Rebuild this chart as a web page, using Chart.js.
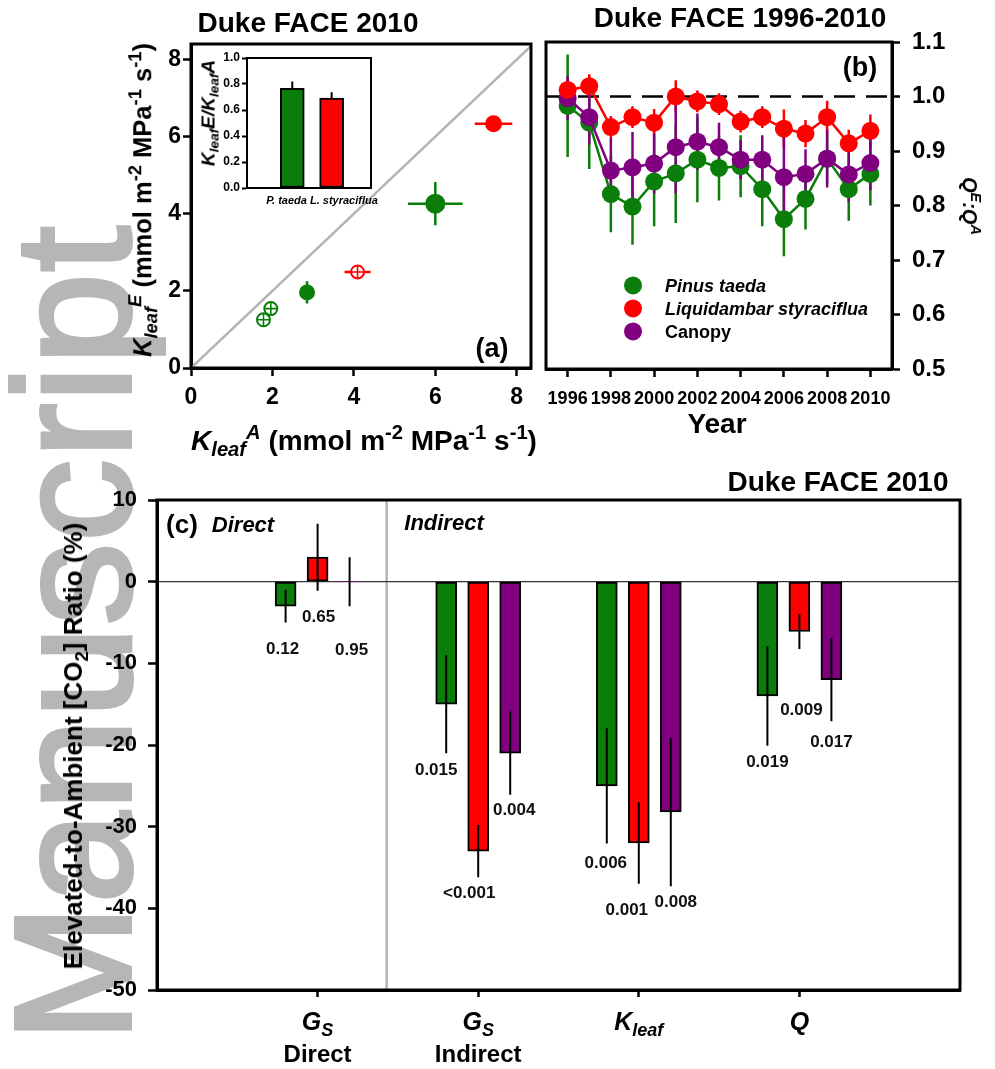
<!DOCTYPE html>
<html>
<head>
<meta charset="utf-8">
<title>Duke FACE 2010</title>
<script src="https://cdn.jsdelivr.net/npm/chart.js@4.4.1/dist/chart.umd.min.js"></script>
<style>
  html, body { margin: 0; padding: 0; background: #fff; }
  #page { position: relative; width: 995px; height: 1069px; overflow: hidden; font-family: "Liberation Sans", Arial, sans-serif; }
  canvas { position: absolute; }
  .wm { position: absolute; left: -9px; top: 1042px; font-family: "Liberation Sans", Arial, sans-serif; font-size: 165px; line-height: 165px; letter-spacing: 1px;
        color: #b6b6b6; -webkit-text-stroke: 4px #b6b6b6; white-space: nowrap; transform-origin: 0 0; transform: rotate(-90deg); }
  .t { position: absolute; white-space: nowrap; font-weight: bold; line-height: 1; color: #000; transform: translate(-50%, -50%); }
  .t.ccw { transform: translate(-50%, -50%) rotate(-90deg); }
  .t.cw { transform: translate(-50%, -50%) rotate(90deg); }
  .sb { font-size: 0.72em; position: relative; top: 0.32em; }
  .sp { font-size: 0.72em; position: relative; top: -0.55em; }
  .dot { display: inline-block; width: 18px; height: 18px; border-radius: 50%; vertical-align: middle; margin-right: 23px; position: relative; top: -2px; }
</style>
</head>
<body>
<div id="page">
  <div class="wm">Manuscript</div>

  <canvas id="chartA" width="420" height="400" style="left:130px;top:20px;width:420px;height:400px"></canvas>
  <canvas id="chartInset" width="190" height="165" style="left:190px;top:47px;width:190px;height:165px"></canvas>
  <canvas id="chartB" width="465" height="428" style="left:530px;top:12px;width:465px;height:428px"></canvas>
  <canvas id="chartC" width="905" height="595" style="left:90px;top:474px;width:905px;height:595px"></canvas>

  <!-- panel (a) text -->
  <div class="t" style="left:308px;top:23px;font-size:28px">Duke FACE 2010</div>
  <div class="t" style="left:364px;top:441px;font-size:28px"><i>K<span class="sb">leaf</span><span class="sp">A</span></i> (mmol m<span class="sp">-2</span> MPa<span class="sp">-1</span> s<span class="sp">-1</span>)</div>
  <div class="t ccw" style="left:143px;top:200px;font-size:25.5px"><i>K<span class="sb">leaf</span><span class="sp">E</span></i> (mmol m<span class="sp">-2</span> MPa<span class="sp">-1</span> s<span class="sp">-1</span>)</div>
  <div class="t ccw" style="left:208px;top:113px;font-size:19px"><i>K<span class="sb">leaf</span>E/K<span class="sb">leaf</span>A</i></div>
  <div class="t" id="insetNames" style="left:322px;top:200px;font-size:11px;font-style:italic"></div>
  <div class="t" style="left:492px;top:348px;font-size:27px">(a)</div>

  <!-- panel (b) text -->
  <div class="t" style="left:740px;top:18px;font-size:28px">Duke FACE 1996-2010</div>
  <div class="t" style="left:860px;top:67px;font-size:27px">(b)</div>
  <div class="t cw" style="left:970px;top:206px;font-size:20px"><i>Q<span class="sp">E</span>:Q<span class="sp">A</span></i></div>
  <div class="t" style="left:717px;top:424px;font-size:28px">Year</div>
  <div id="legendB"></div>

  <!-- panel (c) text -->
  <div class="t" style="left:838px;top:482px;font-size:28px">Duke FACE 2010</div>
  <div class="t" style="left:182px;top:524px;font-size:26px">(c)</div>
  <div class="t" style="left:243px;top:525px;font-size:22px;font-style:italic">Direct</div>
  <div class="t" style="left:444px;top:523px;font-size:22px;font-style:italic">Indirect</div>
  <div class="t ccw" style="left:73px;top:746px;font-size:26px">Elevated-to-Ambient [CO<span class="sb">2</span>] Ratio (%)</div>
  <div id="catLabelsC"></div>
</div>

<script>
// ---------- panel (a): K_leaf from E vs from A ----------
const aTicks = [0, 2, 4, 6, 8];
const aXMax = 8.35;
const aYMax = 8.4;
const aOneToOne = [0, 8.4];

const aGreenFilledKA = [2.85, 6.0];
const aGreenFilledKE = [1.96, 4.26];
const aGreenFilledErrA = [0.1, 0.67];
const aGreenFilledErrE = [0.29, 0.56];

const aRedFilledKA = [7.43];
const aRedFilledKE = [6.33];
const aRedFilledErrA = [0.46];
const aRedFilledErrE = [0.18];

const aGreenOpenKA = [1.78, 1.96];
const aGreenOpenKE = [1.25, 1.54];
const aGreenOpenErr = [0.08, 0.08];

const aRedOpenKA = [4.09];
const aRedOpenKE = [2.49];
const aRedOpenErrA = [0.32];
const aRedOpenErrE = [0.1];

// inset
const insetSpecies = ['P. taeda', 'L. styraciflua'];
const insetRatio = [0.767, 0.692];
const insetErr = [0.052, 0.044];
const insetTicks = [0, 0.2, 0.4, 0.6, 0.8, 1.0];

// ---------- panel (b): Q^E:Q^A 1996-2010 ----------
const years = [1996, 1997, 1998, 1999, 2000, 2001, 2002, 2003, 2004, 2005, 2006, 2007, 2008, 2009, 2010];
const yearTicks = [1996, 1998, 2000, 2002, 2004, 2006, 2008, 2010];
const qTicks = [0.5, 0.6, 0.7, 0.8, 0.9, 1.0, 1.1];
const qRef = 1.0;
const bSeriesNames = ['Pinus taeda', 'Liquidambar styraciflua', 'Canopy'];

const qPinus     = [0.983, 0.952, 0.821, 0.798, 0.844, 0.859, 0.884, 0.869, 0.872, 0.830, 0.775, 0.812, 0.886, 0.830, 0.858];
const qPinusErr  = [0.094, 0.085, 0.07, 0.07, 0.082, 0.091, 0.078, 0.06, 0.057, 0.068, 0.068, 0.056, 0.046, 0.058, 0.058];
const qLiquid    = [1.012, 1.019, 0.944, 0.962, 0.952, 1.0, 0.991, 0.986, 0.954, 0.962, 0.941, 0.932, 0.962, 0.914, 0.937];
const qLiquidErr = [0.02, 0.022, 0.02, 0.02, 0.025, 0.03, 0.02, 0.02, 0.02, 0.02, 0.035, 0.025, 0.03, 0.025, 0.03];
const qCanopy    = [0.997, 0.962, 0.864, 0.870, 0.877, 0.907, 0.917, 0.907, 0.884, 0.884, 0.852, 0.858, 0.886, 0.857, 0.878];
const qCanopyErr = [0.04, 0.05, 0.06, 0.065, 0.055, 0.085, 0.052, 0.045, 0.036, 0.045, 0.074, 0.045, 0.053, 0.05, 0.05];

// ---------- panel (c): elevated-to-ambient ratios ----------
const cCategories = ['Gs Direct', 'Gs Indirect', 'Kleaf', 'Q'];
const cSymbol = ['G', 'G', 'K', 'Q'];
const cSymbolSub = ['S', 'S', 'leaf', ''];
const cGroupName = ['Direct', 'Indirect', '', ''];
const cTicks = [-50, -40, -30, -20, -10, 0, 10];
const cDividerAt = 1.43;

const cPinus      = [-3, -15, -25, -14];
const cPinusErr   = [2, 6, 7.05, 6.1];
const cPinusP     = ['0.12', '0.015', '0.006', '0.019'];
const cLiquid     = [3, -33, -32, -6.1];
const cLiquidErr  = [4.1, 3.2, 5, 2.15];
const cLiquidP    = ['0.65', '<0.001', '0.001', '0.009'];
const cCanopy     = [0, -21, -28.2, -12];
const cCanopyErr  = [3, 5.1, 9.1, 5.1];
const cCanopyP    = ['0.95', '0.004', '0.008', '0.017'];

// label nudges (px) so the p-values sit where the original put them
const pNudgeX = [[-3, -10, -1, 0], [1, -9, -12, 2], [2, 4, 5, 0]];
const pNudgeY = [[10, 0, 3, -1], [10, -1, 9, 44], [27, -2, -1, 4]];

const GREEN = '#0b7d0b';
const RED = '#ff0000';
const PURPLE = '#800080';

Chart.defaults.font.family = '"Liberation Sans", Arial, sans-serif';
Chart.defaults.font.weight = 'bold';
Chart.defaults.color = '#000';

// ---------- plugins ----------
const framePlugin = {
    id: 'frame',
    afterDraw(chart, args, opts) {
        const a = chart.chartArea, ctx = chart.ctx;
        ctx.save();
        ctx.strokeStyle = '#000';
        ctx.lineWidth = opts.width || 3;
        ctx.strokeRect(a.left, a.top, a.right - a.left, a.bottom - a.top);
        ctx.restore();
    }
};

function drawErrorBars(chart) {
    const ctx = chart.ctx, xs = chart.scales.x, ys = chart.scales.y;
    chart.data.datasets.forEach((ds, di) => {
        if (!ds.errY && !ds.errX) return;
        const meta = chart.getDatasetMeta(di);
        ctx.save();
        ctx.strokeStyle = ds.errColor || ds.borderColor;
        ctx.lineWidth = ds.errWidth || 2.5;
        ctx.beginPath();
        meta.data.forEach((el, i) => {
            const raw = ds.data[i];
            if (ds.errY) {
                const lo = ds.errUpOnly ? raw.y : raw.y - ds.errY[i];
                ctx.moveTo(el.x, ys.getPixelForValue(lo));
                ctx.lineTo(el.x, ys.getPixelForValue(raw.y + ds.errY[i]));
            }
            if (ds.errX) {
                ctx.moveTo(xs.getPixelForValue(raw.x - ds.errX[i]), el.y);
                ctx.lineTo(xs.getPixelForValue(raw.x + ds.errX[i]), el.y);
            }
        });
        ctx.stroke();
        ctx.restore();
    });
}

const errorBarPlugin = {
    id: 'errorBars',
    beforeDatasetsDraw(chart, args, opts) { if (!opts.onTop) drawErrorBars(chart); },
    afterDatasetsDraw(chart, args, opts) { if (opts.onTop) drawErrorBars(chart); }
};

const refLinePlugin = {
    id: 'refLines',
    beforeDatasetsDraw(chart, args, opts) {
        const ctx = chart.ctx, a = chart.chartArea;
        (opts.lines || []).forEach(l => {
            ctx.save();
            ctx.strokeStyle = l.color;
            ctx.lineWidth = l.width;
            ctx.setLineDash(l.dash || []);
            ctx.beginPath();
            if (l.axis === 'y') {
                const y = chart.scales.y.getPixelForValue(l.value);
                ctx.moveTo(a.left, y); ctx.lineTo(a.right, y);
            } else {
                const x = chart.scales.x.getPixelForValue(l.value);
                ctx.moveTo(x, a.top); ctx.lineTo(x, a.bottom);
            }
            ctx.stroke();
            ctx.restore();
        });
    }
};

const pValuePlugin = {
    id: 'pValues',
    afterDatasetsDraw(chart) {
        const ctx = chart.ctx, ys = chart.scales.y;
        ctx.save();
        ctx.fillStyle = '#111';
        ctx.font = 'bold 17px "Liberation Sans", Arial, sans-serif';
        ctx.textAlign = 'center';
        ctx.textBaseline = 'middle';
        chart.data.datasets.forEach((ds, di) => {
            if (!ds.pLabels) return;
            chart.getDatasetMeta(di).data.forEach((el, i) => {
                const y = ys.getPixelForValue(ds.data[i].y - ds.errY[i]) + 17 + pNudgeY[di][i];
                ctx.fillText(ds.pLabels[i], el.x + pNudgeX[di][i], y);
            });
        });
        ctx.restore();
    }
};

function axis(p) {
    return {
        type: 'linear',
        position: p.position,
        min: p.min,
        max: p.max,
        offset: false,
        afterBuildTicks: s => { s.ticks = p.ticks.map(v => ({ value: v })); },
        afterFit: s => { if (s.isHorizontal()) s.height = p.size; else s.width = p.size; },
        border: { display: true, color: '#000', width: p.border || 3 },
        grid: { drawOnChartArea: false, offset: false, tickLength: p.tickLen, tickWidth: p.tickWidth || 2.5, tickColor: '#000', color: '#000' },
        ticks: {
            color: '#000', font: { size: p.fontSize, weight: 'bold' }, padding: p.pad,
            autoSkip: false, maxRotation: 0, minRotation: 0,
            callback: p.fmt || (v => v)
        }
    };
}

const zip = (xs, ys) => xs.map((x, i) => ({ x: x, y: ys[i] }));

// ---------- chart (a) ----------
new Chart(document.getElementById('chartA'), {
    type: 'scatter',
    data: {
        datasets: [
            { data: zip(aRedFilledKA, aRedFilledKE), errX: aRedFilledErrA, errY: aRedFilledErrE,
              backgroundColor: RED, borderColor: RED, pointRadius: 8.5, pointBorderWidth: 0, order: 1 },
            { data: zip(aGreenFilledKA, aGreenFilledKE), errX: aGreenFilledErrA, errY: aGreenFilledErrE,
              backgroundColor: GREEN, borderColor: GREEN, pointRadius: [8, 10], pointBorderWidth: 0, order: 1 },
            { data: zip(aRedOpenKA, aRedOpenKE), errX: aRedOpenErrA, errY: aRedOpenErrE,
              backgroundColor: '#fff', borderColor: RED, pointRadius: 6.5, pointBorderWidth: 2, order: 2 },
            { data: zip(aRedOpenKA, aRedOpenKE), pointStyle: 'cross',
              borderColor: RED, pointRadius: 6.5, pointBorderWidth: 1.6, order: 0 },
            { data: zip(aGreenOpenKA, aGreenOpenKE), errX: aGreenOpenErr, errY: aGreenOpenErr,
              backgroundColor: '#fff', borderColor: GREEN, pointRadius: 6.5, pointBorderWidth: 2, order: 2 },
            { data: zip(aGreenOpenKA, aGreenOpenKE), pointStyle: 'cross',
              borderColor: GREEN, pointRadius: 6.5, pointBorderWidth: 1.6, order: 0 },
            { type: 'line', data: zip(aOneToOne, aOneToOne), borderColor: '#b4b4b4', borderWidth: 2.5,
              pointRadius: 0, order: 9 }
        ]
    },
    options: {
        responsive: false,
        animation: false,
        layout: { padding: { top: 24, right: 19, left: 0, bottom: 0 } },
        plugins: { legend: { display: false }, tooltip: { enabled: false }, frame: { width: 3 }, errorBars: { onTop: false } },
        scales: {
            x: axis({ position: 'bottom', min: 0, max: aXMax, ticks: aTicks, size: 52, tickLen: 8, pad: 8, fontSize: 23 }),
            y: axis({ position: 'left', min: 0, max: aYMax, ticks: aTicks, size: 61, tickLen: 8, pad: 2, fontSize: 23 })
        }
    },
    plugins: [framePlugin, errorBarPlugin]
});

// ---------- inset ----------
new Chart(document.getElementById('chartInset'), {
    type: 'bar',
    data: {
        datasets: [{
            data: insetSpecies.map((s, i) => ({ x: i + 1, y: insetRatio[i] })),
            errY: insetErr, errUpOnly: true, errColor: '#000', errWidth: 2,
            backgroundColor: [GREEN, RED], borderColor: '#000', borderWidth: 2,
            borderSkipped: false, barThickness: 24
        }]
    },
    options: {
        responsive: false,
        animation: false,
        layout: { padding: { top: 11, right: 9, left: 0, bottom: 24 } },
        plugins: { legend: { display: false }, tooltip: { enabled: false }, frame: { width: 2 }, errorBars: { onTop: false } },
        scales: {
            x: { type: 'linear', min: -0.15, max: 3, offset: false, display: false, grid: { offset: false } },
            y: axis({ position: 'left', min: 0, max: 1, ticks: insetTicks, size: 57, tickLen: 5, tickWidth: 2, pad: 2, fontSize: 12, border: 2,
                      fmt: v => v.toFixed(1) })
        }
    },
    plugins: [framePlugin, errorBarPlugin]
});
document.getElementById('insetNames').textContent = insetSpecies.join(' ');

// ---------- chart (b) ----------
const bValues = [qPinus, qLiquid, qCanopy];
const bErrors = [qPinusErr, qLiquidErr, qCanopyErr];
const bColors = [GREEN, RED, PURPLE];
const bOrder = [3, 1, 2];

new Chart(document.getElementById('chartB'), {
    type: 'line',
    data: {
        datasets: bSeriesNames.map((name, k) => ({
            label: name,
            data: zip(years, bValues[k]),
            errY: bErrors[k],
            borderColor: bColors[k],
            backgroundColor: bColors[k],
            pointBackgroundColor: bColors[k],
            pointRadius: 9,
            pointBorderWidth: 0,
            borderWidth: 2.5,
            tension: 0,
            order: bOrder[k]
        }))
    },
    options: {
        responsive: false,
        animation: false,
        layout: { padding: { top: 30, right: 0, left: 16, bottom: 0 } },
        plugins: {
            legend: { display: false }, tooltip: { enabled: false }, frame: { width: 3 }, errorBars: { onTop: false },
            refLines: { lines: [{ axis: 'y', value: qRef, color: '#000', width: 2.5, dash: [21, 11] }] }
        },
        scales: {
            x: axis({ position: 'bottom', min: 1995, max: 2011, ticks: yearTicks, size: 71, tickLen: 8, pad: 11, fontSize: 18 }),
            y: axis({ position: 'right', min: 0.5, max: 1.1, ticks: qTicks, size: 103, tickLen: 8, pad: 12, fontSize: 24,
                      fmt: v => v.toFixed(1) })
        }
    },
    plugins: [framePlugin, refLinePlugin, errorBarPlugin]
});

const legendB = document.getElementById('legendB');
bSeriesNames.forEach((name, k) => {
    const row = document.createElement('div');
    row.className = 't';
    row.style.transform = 'translateY(-50%)';
    row.style.left = '624px';
    row.style.top = (287 + 23 * k) + 'px';
    row.style.fontSize = '18px';
    row.innerHTML = '<span class="dot" style="background:' + bColors[k] + '"></span>' +
        '<span style="font-style:' + (k < 2 ? 'italic' : 'normal') + '">' + name + '</span>';
    legendB.appendChild(row);
});

// ---------- chart (c) ----------
const cValues = [cPinus, cLiquid, cCanopy];
const cErrors = [cPinusErr, cLiquidErr, cCanopyErr];
const cPs = [cPinusP, cLiquidP, cCanopyP];

const chartC = new Chart(document.getElementById('chartC'), {
    type: 'bar',
    data: {
        datasets: bSeriesNames.map((name, k) => ({
            label: name,
            data: cCategories.map((c, i) => ({ x: i + 1, y: cValues[k][i] })),
            errY: cErrors[k],
            errColor: '#000',
            errWidth: 2,
            pLabels: cPs[k],
            backgroundColor: bColors[k],
            borderColor: '#000',
            borderWidth: ctx => (ctx.raw && ctx.raw.y === 0 ? 0 : 2),
            borderSkipped: false,
            barThickness: 32,
            maxBarThickness: 21
        }))
    },
    options: {
        responsive: false,
        animation: false,
        layout: { padding: { top: 26, right: 35, left: 0, bottom: 0 } },
        plugins: {
            legend: { display: false }, tooltip: { enabled: false }, frame: { width: 3 }, errorBars: { onTop: true },
            refLines: { lines: [
                { axis: 'x', value: cDividerAt, color: '#b4b4b4', width: 2.5 },
                { axis: 'y', value: 0, color: '#333', width: 1.3 }
            ] }
        },
        scales: {
            x: axis({ position: 'bottom', min: 0, max: cCategories.length + 1, ticks: cCategories.map((c, i) => i + 1),
                      size: 79, tickLen: 7, pad: 4, fontSize: 12, fmt: () => '' }),
            y: axis({ position: 'left', min: -50, max: 10, ticks: cTicks, size: 67, tickLen: 9, pad: 11, fontSize: 22 })
        }
    },
    plugins: [framePlugin, refLinePlugin, errorBarPlugin, pValuePlugin]
});

// category labels under panel (c), placed with the chart's own x scale
const catBox = document.getElementById('catLabelsC');
cCategories.forEach((c, i) => {
    const px = 90 + chartC.scales.x.getPixelForValue(i + 1);
    const sym = document.createElement('div');
    sym.className = 't';
    sym.style.left = px + 'px';
    sym.style.top = '1021px';
    sym.style.fontSize = '25px';
    sym.innerHTML = '<i>' + cSymbol[i] + (cSymbolSub[i] ? '<span class="sb">' + cSymbolSub[i] + '</span>' : '') + '</i>';
    catBox.appendChild(sym);
    if (cGroupName[i]) {
        const grp = document.createElement('div');
        grp.className = 't';
        grp.style.left = px + 'px';
        grp.style.top = '1054px';
        grp.style.fontSize = '24px';
        grp.textContent = cGroupName[i];
        catBox.appendChild(grp);
    }
});
</script>
</body>
</html>
